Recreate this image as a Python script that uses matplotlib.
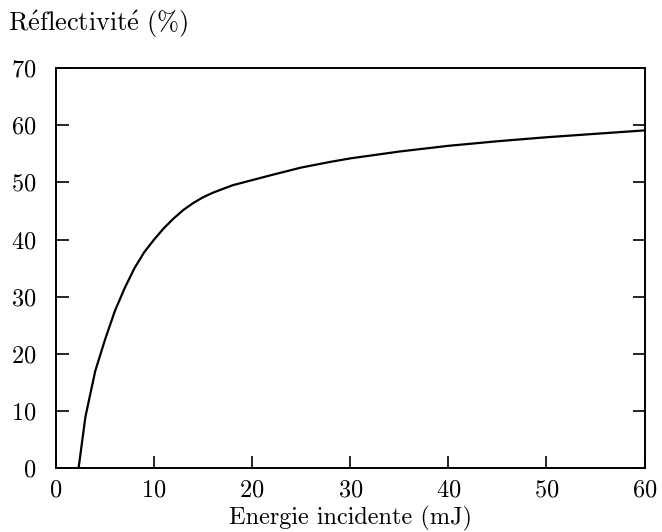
import matplotlib

matplotlib.use("Agg")
import matplotlib.pyplot as plt

plt.rcParams["font.family"] = ["cmr10", "DejaVu Serif"]
plt.rcParams["mathtext.fontset"] = "cm"
plt.rcParams["axes.formatter.use_mathtext"] = True

# values
energie = [2.3, 3, 4, 5, 6, 7, 8, 9, 10, 11, 12, 13, 14, 15, 16, 18, 20, 22,
           25, 28, 30, 35, 40, 45, 50, 55, 60]
reflectivite = [0, 9, 17, 22.5, 27.5, 31.5, 35, 37.8, 40, 42, 43.7, 45.2, 46.4,
                47.4, 48.2, 49.5, 50.4, 51.3, 52.6, 53.6, 54.2, 55.4, 56.4,
                57.2, 57.9, 58.5, 59.1]
x_ticks = [0, 10, 20, 30, 40, 50, 60]
y_ticks = [0, 10, 20, 30, 40, 50, 60, 70]

fig = plt.figure(figsize=(6.62, 5.32), dpi=100)
ax = fig.add_axes([0.0846, 0.12, 0.889, 0.752])
ax.plot(energie, reflectivite, color="black", linewidth=1.6)

ax.set_xlim(0, 60)
ax.set_ylim(0, 70)
ax.set_xticks(x_ticks)
ax.set_yticks(y_ticks)
ax.tick_params(direction="in", length=9, width=1.2, labelsize=17.5,
               right=True, top=False)
ax.tick_params(axis="x", pad=8)
ax.tick_params(axis="y", pad=14)
for s in ax.spines.values():
    s.set_linewidth(1.4)

ax.set_xlabel("Energie incidente (mJ)", fontsize=17.5, labelpad=3)
fig.text(0.012, 0.955, r"$\mathrm{R\acute{e}flectivit\acute{e}\ (\%)}$",
         fontsize=19, ha="left", va="center")

fig.savefig("out.png", dpi=100)
